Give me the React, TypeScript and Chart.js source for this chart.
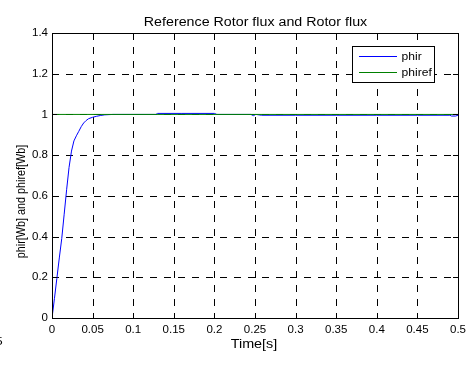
import React, { useEffect, useRef } from "react";
import { Chart, registerables } from "chart.js";

Chart.register(...registerables);

// ---- data ----
const timeS = [0, 0.003, 0.006, 0.009, 0.012, 0.015, 0.018, 0.021, 0.024, 0.027, 0.03, 0.033, 0.036, 0.039, 0.042, 0.045, 0.05, 0.055, 0.06, 0.065, 0.07, 0.075, 0.1, 0.128, 0.13, 0.16, 0.2, 0.203, 0.245, 0.248, 0.251, 0.258, 0.3, 0.35, 0.4, 0.45, 0.49, 0.492, 0.497, 0.5];
const phirValues = [0, 0.095, 0.195, 0.295, 0.39, 0.51, 0.63, 0.74, 0.82, 0.87, 0.895, 0.917, 0.94, 0.958, 0.97, 0.979, 0.986, 0.991, 0.995, 0.998, 0.999, 1.0, 1.0, 1.0, 1.005, 1.005, 1.005, 1.0, 1.0, 0.994, 1.0, 0.996, 0.996, 0.996, 0.996, 0.996, 0.996, 0.992, 0.992, 0.996];
const phirefTime = [0, 0.5];
const phirefValues = [1, 1];

const xTickValues = [0, 0.05, 0.1, 0.15, 0.2, 0.25, 0.3, 0.35, 0.4, 0.45, 0.5];
const yTickValues = [0, 0.2, 0.4, 0.6, 0.8, 1, 1.2, 1.4];

const titleText = "Reference Rotor flux and Rotor flux";
const xAxisTitle = "Time[s]";
const yAxisTitle = "phir[Wb] and phiref[Wb]";
const seriesNames = ["phir", "phiref"];
const seriesColors = ["#0000ff", "#008000"];
const strayText = "5";

const FONT = "'Liberation Sans', Arial, Helvetica, sans-serif";

function fmt(v: number): string {
  return String(Number(v.toFixed(3)));
}

function stretchedText(
  ctx: CanvasRenderingContext2D,
  text: string,
  x: number,
  y: number,
  size: number,
  sx: number,
  align: CanvasTextAlign
) {
  ctx.save();
  ctx.font = `${size}px ${FONT}`;
  ctx.fillStyle = "#000";
  ctx.textBaseline = "alphabetic";
  ctx.textAlign = align;
  ctx.translate(x, y);
  ctx.scale(sx, 1);
  ctx.fillText(text, 0, 0);
  ctx.restore();
}

const al = (v: number) => Math.round(v) + 0.5;

const matlabPlugin = {
  id: "matlabLook",
  beforeDatasetsDraw(chart: any) {
    const { ctx, chartArea: a, scales } = chart;
    ctx.save();
    ctx.strokeStyle = "#000";
    ctx.lineWidth = 1;
    ctx.setLineDash([7, 7]);
    xTickValues.forEach((v) => {
      const px = al(scales.x.getPixelForValue(v));
      if (Math.abs(px - a.left) < 2 || Math.abs(px - a.right) < 2) return;
      ctx.beginPath();
      ctx.moveTo(px, a.top);
      ctx.lineTo(px, a.bottom);
      ctx.stroke();
    });
    yTickValues.forEach((v) => {
      const py = al(scales.y.getPixelForValue(v));
      if (Math.abs(py - a.top) < 2 || Math.abs(py - a.bottom) < 2) return;
      ctx.beginPath();
      ctx.moveTo(a.left, py);
      ctx.lineTo(a.right, py);
      ctx.stroke();
    });
    ctx.restore();
  },
  afterDatasetsDraw(chart: any) {
    const { ctx, chartArea: a, scales } = chart;
    ctx.save();
    ctx.strokeStyle = "#000";
    ctx.lineWidth = 1;
    ctx.setLineDash([]);
    const tl = 5;
    xTickValues.forEach((v) => {
      const px = al(scales.x.getPixelForValue(v));
      ctx.beginPath();
      ctx.moveTo(px, a.bottom);
      ctx.lineTo(px, a.bottom - tl);
      ctx.moveTo(px, a.top);
      ctx.lineTo(px, a.top + tl);
      ctx.stroke();
    });
    yTickValues.forEach((v) => {
      const py = al(scales.y.getPixelForValue(v));
      ctx.beginPath();
      ctx.moveTo(a.left, py);
      ctx.lineTo(a.left + tl, py);
      ctx.moveTo(a.right, py);
      ctx.lineTo(a.right - tl, py);
      ctx.stroke();
    });
    // frame
    ctx.strokeRect(al(a.left), al(a.top), Math.round(a.right - a.left), Math.round(a.bottom - a.top));

    // legend
    const lx = 352.5, ly = 46.5, lw = 82, lh = 36;
    ctx.fillStyle = "#fff";
    ctx.fillRect(lx, ly, lw, lh);
    ctx.strokeRect(lx, ly, lw, lh);
    const rows = [56.5, 72.5];
    seriesNames.forEach((name, i) => {
      ctx.strokeStyle = seriesColors[i];
      ctx.beginPath();
      ctx.moveTo(359, rows[i]);
      ctx.lineTo(397, rows[i]);
      ctx.stroke();
      stretchedText(ctx, name, 401.5, rows[i] + 3.5, 10.8, 1.12, "left");
    });
    ctx.restore();
  },
  afterDraw(chart: any) {
    const { ctx, chartArea: a } = chart;
    const cx = (a.left + a.right) / 2;
    stretchedText(ctx, titleText, cx + 0.5, 26, 12.5, 1.14, "center");
    stretchedText(ctx, xAxisTitle, cx - 1, 348, 12.5, 1.15, "center");
    // y axis title
    ctx.save();
    ctx.font = `10.8px ${FONT}`;
    ctx.fillStyle = "#000";
    ctx.textAlign = "center";
    ctx.textBaseline = "alphabetic";
    ctx.translate(24.5, 201.5);
    ctx.rotate(-Math.PI / 2);
    ctx.scale(1, 1.15);
    ctx.fillText(yAxisTitle, 0, 0);
    ctx.restore();
    stretchedText(ctx, strayText, -4.5, 345, 11.5, 1.12, "left");
  },
};

export default function App() {
  const canvasRef = useRef<HTMLCanvasElement | null>(null);

  useEffect(() => {
    if (!canvasRef.current) return;
    const chart = new Chart(canvasRef.current, {
      type: "line",
      data: {
        datasets: [
          {
            label: seriesNames[0],
            data: timeS.map((t, i) => ({ x: t, y: phirValues[i] })),
            borderColor: seriesColors[0],
            borderWidth: 1,
            pointRadius: 0,
            tension: 0,
            fill: false,
            order: 1,
          },
          {
            label: seriesNames[1],
            data: phirefTime.map((t, i) => ({ x: t, y: phirefValues[i] })),
            borderColor: seriesColors[1],
            borderWidth: 1,
            pointRadius: 0,
            tension: 0,
            fill: false,
            order: 0,
          },
        ],
      },
      options: {
        responsive: false,
        animation: false,
        maintainAspectRatio: false,
        devicePixelRatio: 1,
        layout: { padding: { left: 0, right: 13, top: 33, bottom: 0 } },
        plugins: {
          legend: { display: false },
          title: { display: false },
          tooltip: { enabled: false },
        },
        scales: {
          x: {
            type: "linear",
            min: 0,
            max: 0.5,
            afterBuildTicks: (s: any) => {
              s.ticks = xTickValues.map((v) => ({ value: v }));
            },
            afterFit: (s: any) => {
              s.height = 49;
            },
            grid: { display: false, drawTicks: false },
            border: { display: false },
            ticks: {
              autoSkip: false,
              maxRotation: 0,
              minRotation: 0,
              padding: 5,
              color: "#000",
              font: { family: FONT, size: 11.5 },
              callback: (v: any) => fmt(Number(v)),
            },
          },
          y: {
            type: "linear",
            min: 0,
            max: 1.4,
            afterBuildTicks: (s: any) => {
              s.ticks = yTickValues.map((v) => ({ value: v }));
            },
            afterFit: (s: any) => {
              s.width = 52;
            },
            grid: { display: false, drawTicks: false },
            border: { display: false },
            ticks: {
              autoSkip: false,
              padding: 4,
              color: "#000",
              font: { family: FONT, size: 11.5 },
              callback: (v: any) => fmt(Number(v)),
            },
          },
        },
      },
      plugins: [matlabPlugin],
    });
    return () => chart.destroy();
  }, []);

  return (
    <div style={{ position: "fixed", left: 0, top: 0, width: 471, height: 367, background: "#fff" }}>
      <canvas ref={canvasRef} width={471} height={367} style={{ display: "block", width: 471, height: 367 }} />
    </div>
  );
}
